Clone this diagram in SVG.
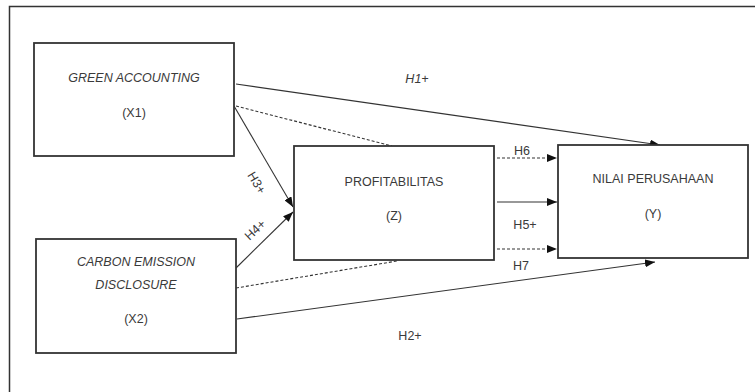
<svg xmlns="http://www.w3.org/2000/svg" width="755" height="392" viewBox="0 0 755 392">
<style>
.box{fill:#fff;stroke:#333;stroke-width:1.8}
.frame{fill:none;stroke:#333;stroke-width:1.5}
.t{font-family:"Liberation Sans",Arial,sans-serif;font-size:12.5px;fill:#3a3a3a;text-anchor:middle}
.i{font-style:italic}
.c{fill:none;stroke:#333;stroke-width:1.1}
.d{stroke-dasharray:3,2}
</style>
<defs>
<marker id="ah" markerUnits="userSpaceOnUse" markerWidth="10" markerHeight="8" refX="10" refY="4" orient="auto">
<path d="M0,0 L10,4 L0,8 Z" fill="#111"/>
</marker>
</defs>
<rect width="755" height="392" fill="#fff"/>
<path class="frame" d="M9.5,392 V6.5 H755"/>
<g id="connectors">
<line class="c" x1="236" y1="84" x2="660" y2="145" marker-end="url(#ah)"/>
<line class="c d" x1="236" y1="106" x2="392" y2="146"/>
<line class="c" x1="234" y1="106" x2="293" y2="207" marker-end="url(#ah)"/>
<line class="c" x1="236" y1="268" x2="293" y2="212" marker-end="url(#ah)"/>
<line class="c d" x1="236" y1="288" x2="397" y2="261"/>
<line class="c" x1="237" y1="319" x2="655" y2="262" marker-end="url(#ah)"/>
<line class="c d" x1="497" y1="158" x2="557" y2="158" marker-end="url(#ah)"/>
<line class="c" x1="497" y1="202" x2="557" y2="202" marker-end="url(#ah)"/>
<line class="c d" x1="497" y1="249" x2="557" y2="249" marker-end="url(#ah)"/>
<text class="t i" x="417" y="83">H1+</text>
<text class="t" x="522" y="155">H6</text>
<text class="t" x="525" y="229">H5+</text>
<text class="t" x="521" y="270">H7</text>
<text class="t" x="410" y="340">H2+</text>
<text class="t" transform="translate(253,185) rotate(59)">H3+</text>
<text class="t" transform="translate(258,233) rotate(-43)">H4+</text>
</g>
<g id="x1">
<rect class="box" x="34" y="43" width="200" height="113"/>
<text class="t i" x="134" y="82">GREEN ACCOUNTING</text>
<text class="t" x="134" y="117">(X1)</text>
</g>
<g id="x2">
<rect class="box" x="36" y="239" width="200" height="114"/>
<text class="t i" x="136" y="266">CARBON EMISSION</text>
<text class="t i" x="136" y="289">DISCLOSURE</text>
<text class="t" x="136" y="323">(X2)</text>
</g>
<g id="z">
<rect class="box" x="294" y="146" width="200" height="114"/>
<text class="t" x="394" y="186">PROFITABILITAS</text>
<text class="t" x="394" y="220">(Z)</text>
</g>
<g id="y">
<rect class="box" x="558" y="145" width="190" height="113"/>
<text class="t" x="653" y="183">NILAI PERUSAHAAN</text>
<text class="t" x="653" y="218">(Y)</text>
</g>
</svg>
